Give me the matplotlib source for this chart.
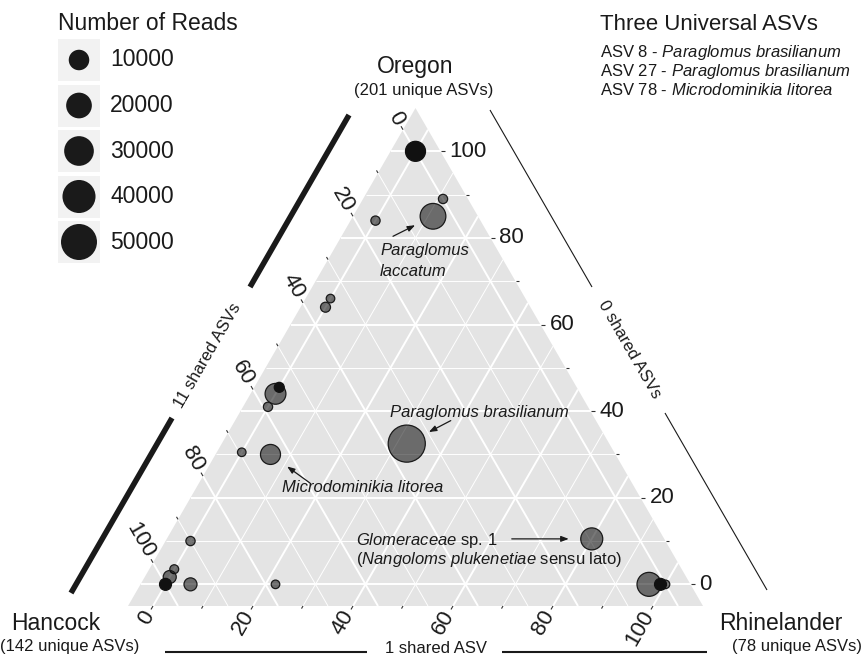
import numpy as np
import matplotlib
matplotlib.use("Agg")
import matplotlib.pyplot as plt
from matplotlib.patches import Polygon, Rectangle

plt.rcParams['font.family'] = ['Liberation Sans', 'DejaVu Sans']
plt.rcParams['mathtext.fontset'] = 'custom'
plt.rcParams['mathtext.rm'] = 'Liberation Sans'
plt.rcParams['mathtext.it'] = 'Liberation Sans:italic'

# ---- data: share of each ASV's reads found at each site ----
oregon      = [0.89, 0.85, 0.84, 0.66, 0.64, 0.44, 0.41, 0.305, 0.30, 0.325,
               0.10, 0.035, 0.017, 0.00, 0.00, 0.105, 0.00, 0.00,
               1.00, 0.455, 0.00, 0.00]
hancock     = [0.00, 0.04, 0.16, 0.34, 0.36, 0.56, 0.59, 0.695, 0.64, 0.355,
               0.90, 0.965, 0.983, 0.95, 0.78, 0.095, 0.033, 0.00,
               0.00, 0.545, 1.00, 0.01]
rhinelander = [0.11, 0.11, 0.00, 0.00, 0.00, 0.00, 0.00, 0.00, 0.06, 0.32,
               0.00, 0.00, 0.00, 0.05, 0.22, 0.80, 0.967, 1.00,
               0.00, 0.00, 0.00, 0.99]
reads       = [100, 20000, 100, 20, 250, 10500, 100, 20, 9200, 54000,
               100, 50, 1600, 1600, 20, 12500, 16300, 20,
               9200, 250, 1000, 1000]
dark_fill   = [False] * 18 + [True] * 4

legend_reads = [10000, 20000, 30000, 40000, 50000]
tick_values = [0, 20, 40, 60, 80, 100]

universal_asvs = [("ASV 8", "Paraglomus brasilianum"),
                  ("ASV 27", "Paraglomus brasilianum"),
                  ("ASV 78", "Microdominikia litorea")]

# ---- ternary geometry ----
LO, HI = -0.05, 1.10
S3 = np.sqrt(3) / 2


def tern_xy(t, l, r):
    t, l, r = np.asarray(t, float), np.asarray(l, float), np.asarray(r, float)
    tot = t + l + r
    t, r = t / tot, r / tot
    return r + t / 2, t * S3


left_c = tern_xy(LO, HI, LO)
right_c = tern_xy(LO, LO, HI)
apex_c = tern_xy(HI, LO, LO)

W, H = 867, 655
PX0, PY0, PPU = 128, 606, 500.0   # left corner in pixels, pixels per unit


def P(px, py):
    return (float(left_c[0]) + (px - PX0) / PPU, float(left_c[1]) + (PY0 - py) / PPU)


fig = plt.figure(figsize=(W / 100, H / 100), dpi=100)
ax = fig.add_axes([0, 0, 1, 1])
ax.set_xlim(P(0, 0)[0], P(W, 0)[0])
ax.set_ylim(P(0, H)[1], P(0, 0)[1])
ax.axis('off')

TXT = '#1a1a1a'

# panel background
ax.add_patch(Polygon([(float(left_c[0]), float(left_c[1])),
                      (float(right_c[0]), float(right_c[1])),
                      (float(apex_c[0]), float(apex_c[1]))],
                     closed=True, facecolor='#E4E4E4', edgecolor='none', zorder=0))

# grid lines
for k in range(11):
    v = k / 10
    major = k % 2 == 0
    lw = 1.4 if major else 0.7
    segs = [
        (tern_xy(v, LO, 1 - v - LO), tern_xy(v, 1 - v - LO, LO)),
        (tern_xy(LO, v, 1 - v - LO), tern_xy(1 - v - LO, v, LO)),
        (tern_xy(LO, 1 - v - LO, v), tern_xy(1 - v - LO, LO, v)),
    ]
    for a, b in segs:
        ax.plot([a[0], b[0]], [a[1], b[1]], color='white', lw=lw, zorder=1,
                solid_capstyle='butt')

# ticks and tick labels
TICK_MAJ, TICK_MIN, LAB_OFF = 4 / PPU, 3 / PPU, 7 / PPU
dirs = {
    'T': (1.0, 0.0),
    'L': (-0.5, S3),
    'R': (-0.5, -S3),
}
for k in range(11):
    v = k / 10
    major = k % 2 == 0
    pts = {
        'T': tern_xy(v, LO, 1 - v - LO),
        'L': tern_xy(1 - v - LO, v, LO),
        'R': tern_xy(LO, 1 - v - LO, v),
    }
    for axis_name, (x0, y0) in pts.items():
        dx, dy = dirs[axis_name]
        ln = TICK_MAJ if major else TICK_MIN
        ax.plot([x0, x0 + dx * ln], [y0, y0 + dy * ln], color='#333333',
                lw=0.8, zorder=2, solid_capstyle='butt')
        if major:
            lab = str(int(round(v * 100)))
            off = LAB_OFF + (2 / PPU if axis_name == 'T' else 0)
            lx, ly = x0 + dx * off, y0 + dy * off
            if axis_name == 'T':
                ax.text(lx, ly, lab, ha='left', va='center', fontsize=16, color=TXT)
            elif axis_name == 'L':
                ax.text(lx, ly, lab, ha='right', va='center', rotation=-60,
                        rotation_mode='anchor', fontsize=16, color=TXT)
            else:
                ax.text(lx, ly, lab, ha='right', va='center', rotation=60,
                        rotation_mode='anchor', fontsize=16, color=TXT)


# size scale: diameter in pixels grows with sqrt of reads
def diam_px(v):
    return 8 + 28 * np.sqrt(np.asarray(v, float) / 50000.0)


def area_pt2(v):
    return (diam_px(v) * 0.72) ** 2


xs, ys = tern_xy(oregon, hancock, rhinelander)
sizes = area_pt2(reads)
dark = np.array(dark_fill)

ax.scatter(xs[~dark], ys[~dark], s=sizes[~dark], facecolor=(0, 0, 0, 0.53),
           edgecolor='#1a1a1a', linewidth=0.9, zorder=3)
ax.scatter(xs[dark], ys[dark], s=sizes[dark], facecolor='#111111',
           edgecolor='#111111', linewidth=0.9, zorder=4)

# annotations for named ASVs
def arrow_to(i, dx_px, dy_px, gap_px):
    ax.annotate('', xy=(xs[i], ys[i]), xytext=(dx_px * 0.72, -dy_px * 0.72),
                textcoords='offset points',
                arrowprops=dict(arrowstyle='-|>,head_length=0.45,head_width=0.17',
                                color=TXT, lw=0.9, shrinkA=0, shrinkB=gap_px * 0.72),
                zorder=5)


arrow_to(1, -40, 20, 20)
arrow_to(9, 44, -23, 25)
arrow_to(8, 39.5, 28.6, 20.5)
arrow_to(15, -80, 0, 23)


def put(px, py, s, **kw):
    kw.setdefault('color', TXT)
    return ax.text(*P(px, py), s, **kw)


put(380, 255, 'Paraglomus', fontsize=12, style='italic', va='baseline')
put(380, 276, 'laccatum', fontsize=12, style='italic', va='baseline')
put(390, 417, 'Paraglomus brasilianum', fontsize=12, style='italic', va='baseline')
put(282, 492, 'Microdominikia litorea', fontsize=12, style='italic', va='baseline')
put(356, 545, r'$\mathit{Glomeraceae}$ sp. 1', fontsize=12, va='baseline')
put(356, 564, r'($\mathit{Nangoloms\ plukenetiae}$ sensu lato)', fontsize=12, va='baseline')

# vertex labels
put(415, 73, 'Oregon', fontsize=16.5, ha='center', va='baseline')
put(424, 95, '(201 unique ASVs)', fontsize=12, ha='center', va='baseline')
put(11, 630, 'Hancock', fontsize=16.5, ha='left', va='baseline')
put(0, 651, '(142 unique ASVs)', fontsize=12, ha='left', va='baseline')
put(719, 630, 'Rhinelander', fontsize=16.5, ha='left', va='baseline')
put(732, 651, '(78 unique ASVs)', fontsize=12, ha='left', va='baseline')

# shared-ASV connectors
for seg in [((349, 115), (250, 287)), ((172, 418), (71, 593))]:
    (a, b) = P(*seg[0]), P(*seg[1])
    ax.plot([a[0], b[0]], [a[1], b[1]], color=TXT, lw=4.0, solid_capstyle='butt')
put(208, 356, '11 shared ASVs', fontsize=12, rotation=60, ha='center', va='center',
    rotation_mode='anchor')

for seg in [((490, 110), (592, 287)), ((665, 413), (767, 590))]:
    (a, b) = P(*seg[0]), P(*seg[1])
    ax.plot([a[0], b[0]], [a[1], b[1]], color=TXT, lw=0.8, solid_capstyle='butt')
put(629, 349, '0 shared ASVs', fontsize=12, rotation=-60, ha='center', va='center',
    rotation_mode='anchor')

for seg in [((165, 652), (367, 652)), ((502, 652), (707, 652))]:
    (a, b) = P(*seg[0]), P(*seg[1])
    ax.plot([a[0], b[0]], [a[1], b[1]], color=TXT, lw=1.5, solid_capstyle='butt')
put(436, 653, '1 shared ASV', fontsize=12, ha='center', va='baseline')

# size legend
put(58, 30, 'Number of Reads', fontsize=16.5, va='baseline')
key_w = 42 / PPU
for j, v in enumerate(legend_reads):
    top = 39 + j * 45.5
    x0, y0 = P(58, top + 42)
    ax.add_patch(Rectangle((x0, y0), key_w, key_w, facecolor='#F2F2F2',
                           edgecolor='none', zorder=1))
    cx, cy = P(79, top + 21)
    ax.scatter([cx], [cy], s=area_pt2(v), facecolor='#1a1a1a', edgecolor='none', zorder=3)
    put(110, top + 21, str(v), fontsize=16.5, va='center')

# universal ASVs box
put(600, 30, 'Three Universal ASVs', fontsize=16, va='baseline')
for j, (asv, taxon) in enumerate(universal_asvs):
    label = asv + ' - $\\mathit{' + taxon.replace(' ', '\\ ') + '}$'
    put(600, 57 + j * 19, label, fontsize=12, va='baseline')

fig.savefig('out.png', dpi=100, facecolor='white')
